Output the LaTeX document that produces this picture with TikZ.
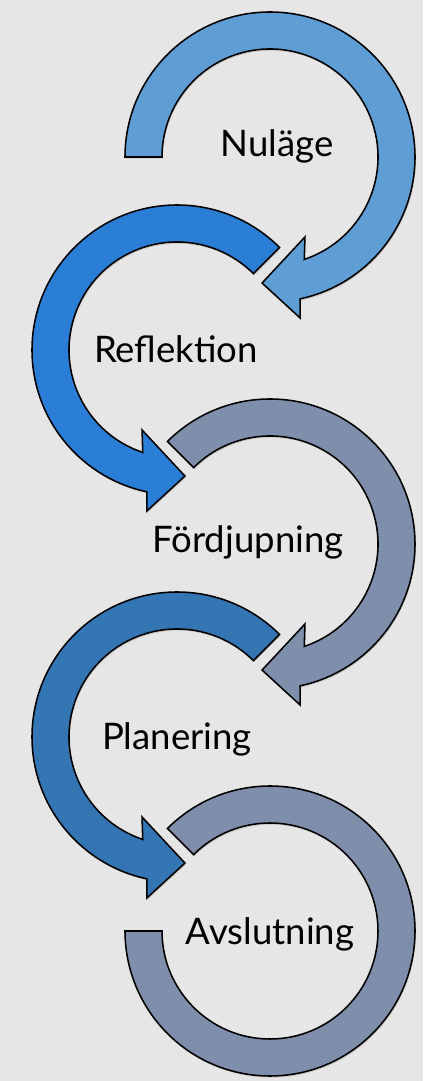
\documentclass[tikz,border=0pt]{standalone}
\usepackage{fontspec}
\setmainfont{Lato}
\usetikzlibrary{shadows}

\definecolor{bgcol}{HTML}{E6E6E6}
\definecolor{nulcol}{HTML}{5E9ED5}
\definecolor{refcol}{HTML}{2A7ED6}
\definecolor{fordcol}{HTML}{7F8EAA}
\definecolor{plancol}{HTML}{3476B3}
\definecolor{avscol}{HTML}{7F8EAA}

\tikzset{
	ring/.style={draw=black, line width=1.1pt, line join=miter,
		drop shadow={opacity=0.3, shadow xshift=0.6pt, shadow yshift=-1.2pt}},
	lbl/.style={anchor=base, font=\fontsize{26}{30}\selectfont}
}

\begin{document}
\begin{tikzpicture}[x=0.025cm, y=0.025cm]

	\def \Ro {145} % outer radius
	\def \Ri {108} % inner radius

	\fill[bgcol] (0,0) rectangle (423,1081);
	\useasboundingbox (0,0) rectangle (423,1081);

	\coordinate (C1) at (270,924);
	\coordinate (C2) at (177,731);
	\coordinate (C3) at (270,537);
	\coordinate (C4) at (177,344);
	\coordinate (C5) at (270,150);

	% clockwise rings
	\filldraw[ring, fill=nulcol, shift={(C1)}] (180:\Ro) arc[start angle=180, end angle=-78, radius=\Ro]
		-- (-79.4:163.8) -- (-93.6:126.3) -- (-66.4:87.3)
		-- (-71.5:\Ri) arc[start angle=-71.5, end angle=180, radius=\Ri] -- cycle;
	\filldraw[ring, fill=refcol, shift={(C2)}] (45:\Ro) arc[start angle=45, end angle=258, radius=\Ro]
		-- (259.4:163.8) -- (273.6:126.3) -- (246.4:87.3)
		-- (251.5:\Ri) arc[start angle=251.5, end angle=45, radius=\Ri] -- cycle;
	\filldraw[ring, fill=fordcol, shift={(C3)}] (135:\Ro) arc[start angle=135, end angle=-78, radius=\Ro]
		-- (-79.4:163.8) -- (-93.6:126.3) -- (-66.4:87.3)
		-- (-71.5:\Ri) arc[start angle=-71.5, end angle=135, radius=\Ri] -- cycle;
	\filldraw[ring, fill=plancol, shift={(C4)}] (45:\Ro) arc[start angle=45, end angle=258, radius=\Ro]
		-- (259.4:163.8) -- (273.6:126.3) -- (246.4:87.3)
		-- (251.5:\Ri) arc[start angle=251.5, end angle=45, radius=\Ri] -- cycle;
	\filldraw[ring, fill=avscol, shift={(C5)}] (135:\Ro) arc[start angle=135, end angle=-180, radius=\Ro]
		-- (180:\Ri) arc[start angle=-180, end angle=135, radius=\Ri] -- cycle;

	\node (Nul) at (277,924) [lbl] {Nuläge};
	\node (Ref) at (176,718) [lbl] {Reflektion};
	\node (Ford) at (248,528) [lbl] {Fördjupning};
	\node (Plan) at (177,331) [lbl] {Planering};
	\node (Avs) at (270,136) [lbl] {Avslutning};

\end{tikzpicture}
\end{document}
